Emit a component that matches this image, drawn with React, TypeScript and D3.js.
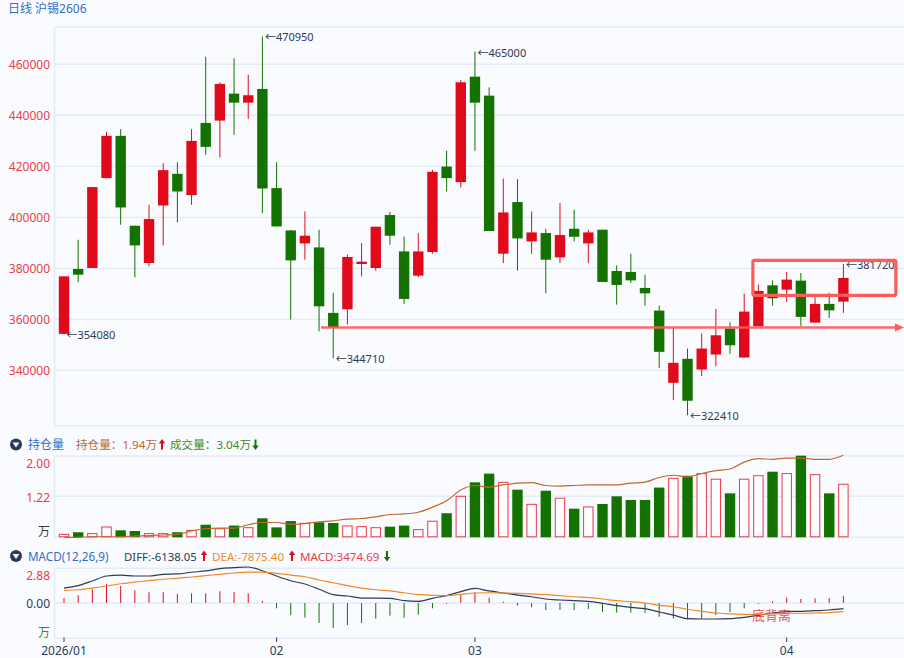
import React from 'react';
import * as d3 from 'd3';

const dates = [
  '01-12', '01-13', '01-14', '01-15', '01-16', '01-19', '01-20', '01-21', '01-22', '01-23', '01-26', '01-27', '01-28', '01-29', '01-30',
  '02-02', '02-03', '02-04', '02-05', '02-06', '02-09', '02-10', '02-11', '02-12', '02-13', '02-24', '02-25', '02-26', '02-27',
  '03-02', '03-03', '03-04', '03-05', '03-06', '03-09', '03-10', '03-11', '03-12', '03-13', '03-16', '03-17', '03-18', '03-19', '03-20',
  '03-23', '03-24', '03-25', '03-26', '03-27', '03-30', '03-31', '04-01', '04-02', '04-03', '04-07', '04-08',
];

const opens = [
  354320, 379760, 380150, 415380, 431940, 396710, 382110, 404660, 417060, 408730, 437020, 437930, 448490, 444970,
  450330, 411470, 394870, 389780, 388220, 362540, 363950, 381720, 380150, 400900, 386650, 377140, 386420, 419920,
  413810, 455150, 447710, 385750, 405990, 390570, 393850, 384300, 395540, 389780, 395150, 378980, 378590, 372330,
  363440, 335140, 344540, 340350, 346220, 356400, 345050, 357300, 373350, 371660, 375180, 358750, 366060, 366960,
];
const closes = [
  376870, 377530, 411860, 431940, 403870, 389000, 399330, 418510, 410140, 429980, 427630, 452290, 444970, 447870,
  411310, 396440, 383130, 392800, 365130, 356670, 384460, 382620, 396320, 392800, 368020, 386650, 417850, 415380,
  452950, 444970, 394640, 401920, 391740, 394090, 383400, 393070, 392400, 394090, 374670, 373500, 375300, 370210,
  347280, 342970, 328100, 348570, 353770, 349860, 363050, 371150, 368260, 375580, 360980, 366060, 363560, 376240,
];
const highs = [
  376870, 391230, 411860, 433500, 434560, 396710, 404930, 421250, 421640, 434560, 462970, 452950, 462350, 455930,
  470950, 421640, 395100, 402310, 395150, 370370, 385360, 389940, 396320, 402190, 392520, 393850, 418630, 426070,
  453850, 465000, 451000, 415220, 414990, 402310, 395540, 405600, 402970, 395150, 395150, 381170, 385750, 377530,
  365400, 356670, 348570, 354440, 364110, 358860, 370100, 373620, 375300, 378590, 378200, 369040, 370370, 381720,
];
const lows = [
  354080, 374520, 380150, 415380, 397100, 376480, 380780, 389000, 398000, 404930, 424500, 423440, 432330, 438590,
  401680, 396440, 359920, 383400, 355340, 344710, 357960, 376870, 379100, 389270, 366060, 376480, 385750, 410140,
  411700, 426070, 394640, 382110, 379100, 385750, 370210, 382110, 390570, 382110, 374670, 365790, 374280, 365400,
  341010, 328330, 322410, 337730, 341640, 346490, 345050, 357300, 365400, 366850, 357300, 358750, 360580, 362540,
];

// volume in 万 lots, open interest in 万 lots
const volumes = [
  0.17, 0.29, 0.21, 0.59, 0.4, 0.36, 0.21, 0.21, 0.29, 0.4, 0.72, 0.49, 0.67, 0.55, 1.09, 0.57, 0.93, 0.8, 0.86, 0.82,
  0.65, 0.61, 0.55, 0.61, 0.67, 0.44, 0.92, 1.38, 2.35, 3.15, 3.65, 3.15, 2.73, 1.89, 2.67, 2.24, 1.64, 1.74, 1.91, 2.35,
  2.14, 2.14, 2.85, 3.38, 3.53, 3.65, 3.33, 2.52, 3.33, 3.53, 3.76, 3.65, 4.68, 3.59, 2.52, 3.04,
];
const openInterest = [
  0.5, 0.5, 0.51, 0.51, 0.51, 0.52, 0.53, 0.54, 0.55, 0.61, 0.65, 0.66, 0.66, 0.72, 0.76, 0.76, 0.73, 0.74, 0.77, 0.79,
  0.82, 0.83, 0.86, 0.9, 0.91, 0.94, 1.03, 1.14, 1.33, 1.41, 1.38, 1.42, 1.45, 1.46, 1.41, 1.4, 1.41, 1.42, 1.42, 1.42,
  1.45, 1.47, 1.55, 1.59, 1.56, 1.62, 1.67, 1.7, 1.82, 1.88, 1.87, 1.89, 1.89, 1.87, 1.87, 1.94,
];

const diff = [
  1.24, 1.44, 1.83, 2.24, 2.32, 2.24, 2.24, 2.38, 2.41, 2.55, 2.66, 2.85, 2.93, 2.99, 2.68, 2.24, 1.85, 1.58, 1.14, 0.69,
  0.58, 0.41, 0.41, 0.39, 0.19, 0.14, 0.39, 0.61, 0.94, 1.22, 1.0, 0.83, 0.66, 0.52, 0.33, 0.25, 0.19, 0.14, -0.02, -0.22,
  -0.36, -0.47, -0.75, -1.0, -1.3, -1.33, -1.33, -1.3, -1.19, -1.02, -0.83, -0.72, -0.69, -0.64, -0.58, -0.47,
];
const dea = [
  1.05, 1.1, 1.24, 1.41, 1.6, 1.74, 1.85, 1.97, 2.05, 2.16, 2.27, 2.38, 2.49, 2.57, 2.57, 2.46, 2.32, 2.18, 1.91, 1.68,
  1.44, 1.24, 1.1, 1.0, 0.85, 0.69, 0.64, 0.61, 0.72, 0.83, 0.85, 0.83, 0.8, 0.75, 0.69, 0.61, 0.52, 0.44, 0.33, 0.19,
  0.11, 0, -0.19, -0.31, -0.52, -0.69, -0.83, -0.91, -0.94, -0.94, -0.91, -0.85, -0.85, -0.83, -0.8, -0.72,
];
const macd = [
  0.41, 0.64, 1.14, 1.58, 1.41, 1.05, 0.89, 0.89, 0.75, 0.8, 0.8, 0.97, 0.91, 0.8, 0.17, -0.44, -1.0, -1.22, -1.66, -2.07,
  -1.83, -1.66, -1.3, -1.05, -1.22, -0.97, -0.44, -0.08, 0.66, 0.89, 0.44, 0.11, -0.22, -0.36, -0.58, -0.58, -0.58, -0.5,
  -0.75, -0.8, -0.8, -0.83, -1.14, -1.3, -1.35, -1.3, -1.0, -0.75, -0.44, -0.06, 0.14, 0.44, 0.33, 0.39, 0.41, 0.58,
];

const priceTicks = [460000, 440000, 420000, 400000, 380000, 360000, 340000];
const monthTicks = [
  { date: '01-12', label: '2026/01' },
  { date: '02-02', label: '02' },
  { date: '03-02', label: '03' },
  { date: '04-01', label: '04' },
];
const extremes = [
  { date: '01-12', value: 354080 },
  { date: '01-30', value: 470950 },
  { date: '02-06', value: 344710 },
  { date: '03-02', value: 465000 },
  { date: '03-23', value: 322410 },
  { date: '04-08', value: 381720 },
];
const supportPrice = 356800;
const boxPrices = [383130, 369430];

const WIDTH = 904;
const HEIGHT = 658;
const LEFT = 54.5;
const RED = '#e00a1a';
const GREEN = '#137200';
const LABEL_RED = '#e8404a';
const DARK = '#2d3a55';
const BLUE = '#2f6fc4';
const GRID = '#e3ebf8';
const ANNOT = '#ff5a5c';
const FONT = '"Noto Sans", "Noto Sans CJK SC", sans-serif';

const x = d3.scalePoint<string>().domain(dates).range([64, 843.4]);
const px = (i: number) => x(dates[i])!;

const yPrice = d3.scaleLinear().domain([340000, 460000]).range([370.4, 64.3]);
const yVolume = d3.scaleLinear().domain([0, 4.66]).range([537.3, 456]);
const yOI = d3.scaleLinear().domain([0.5, 1.94]).range([537.3, 455.3]);
const yMacd = d3.scaleLinear().domain([-2.93, 2.88]).range([638.3, 568.3]);

const oiLine = d3.line<number>().x((_, i) => px(i)).y((d) => yOI(d)).curve(d3.curveMonotoneX);
const diffLine = d3.line<number>().x((_, i) => px(i)).y((d) => yMacd(d)).curve(d3.curveMonotoneX);
const deaLine = d3.line<number>().x((_, i) => px(i)).y((d) => yMacd(d)).curve(d3.curveMonotoneX);

function Arrow({ x: ax, y, color, up }: { x: number; y: number; color: string; up: boolean }) {
  const s = up ? 1 : -1;
  return (
    <path
      d={`M${ax} ${y - 5.5 * s}L${ax + 3.2} ${y - 1 * s}H${ax + 1}V${y + 5 * s}H${ax - 1}V${y - 1 * s}H${ax - 3.2}Z`}
      fill={color}
    />
  );
}

function Icon({ y }: { y: number }) {
  return (
    <g>
      <circle cx={16} cy={y} r={6} fill={DARK} />
      <path d={`M12.6 ${y - 2}H19.4L16 ${y + 3}Z`} fill="#fff" />
    </g>
  );
}

export default function App() {
  const bandW = 10.4;
  return (
    <svg
      width={WIDTH}
      height={HEIGHT}
      style={{ position: 'absolute', left: 0, top: 0, fontFamily: FONT }}
    >
      <rect width={WIDTH} height={HEIGHT} fill="#fafbff" />

      <text x={8} y={12.5} fontSize={12} fill={BLUE}>日线 沪锡2606</text>

      {/* main panel frame and grid */}
      <g stroke={GRID} strokeWidth={1.4} fill="none">
        <line x1={LEFT} x2={WIDTH} y1={26.7} y2={26.7} />
        <line x1={LEFT} x2={WIDTH} y1={425.7} y2={425.7} />
        <line x1={LEFT} x2={LEFT} y1={26.7} y2={425.7} />
        {priceTicks.map((t) => (
          <line key={t} x1={LEFT} x2={WIDTH} y1={yPrice(t)} y2={yPrice(t)} />
        ))}
      </g>
      {priceTicks.map((t) => (
        <text key={t} x={50} y={yPrice(t) + 4.3} textAnchor="end" fontSize={12} fill={LABEL_RED}>{t}</text>
      ))}

      {/* candles */}
      {dates.map((d, i) => {
        const up = closes[i] > opens[i];
        const color = up ? RED : GREEN;
        const top = yPrice(Math.max(opens[i], closes[i]));
        const bottom = yPrice(Math.min(opens[i], closes[i]));
        return (
          <g key={d}>
            <line x1={px(i)} x2={px(i)} y1={yPrice(highs[i])} y2={yPrice(lows[i])} stroke={color} strokeWidth={1} />
            <rect x={px(i) - bandW / 2} y={top} width={bandW} height={Math.max(bottom - top, 1)} fill={color} />
          </g>
        );
      })}

      {extremes.map((e) => (
        <text key={e.date} x={x(e.date)! + 2.5} y={yPrice(e.value) + 5} fontSize={11} fill={DARK}>{`←${e.value}`}</text>
      ))}

      {/* hand drawn annotations */}
      <line x1={321} x2={897} y1={yPrice(supportPrice)} y2={yPrice(supportPrice)} stroke={ANNOT} strokeWidth={2.5} opacity={0.9} />
      <path d={`M895 ${yPrice(supportPrice) - 4}L904 ${yPrice(supportPrice)}L895 ${yPrice(supportPrice) + 4}Z`} fill={ANNOT} />
      <rect
        x={px(49) - 5.5}
        y={yPrice(boxPrices[0])}
        width={143}
        height={yPrice(boxPrices[1]) - yPrice(boxPrices[0])}
        rx={1.5}
        fill="none"
        stroke={ANNOT}
        strokeWidth={3.2}
      />

      {/* open interest / volume */}
      <Icon y={444.5} />
      <text x={28} y={449} fontSize={12} fill={BLUE}>持仓量</text>
      <text x={76} y={449} fontSize={11.6} fill="#b8692e">持仓量：1.94万</text>
      <Arrow x={162} y={444.5} color={RED} up />
      <text x={170} y={449} fontSize={11.6} fill="#3d8a2a">成交量：3.04万</text>
      <Arrow x={255.5} y={444.5} color={GREEN} up={false} />

      <g stroke={GRID} strokeWidth={1.4} fill="none">
        <line x1={LEFT} x2={WIDTH} y1={456} y2={456} />
        <line x1={LEFT} x2={WIDTH} y1={496.3} y2={496.3} />
        <line x1={LEFT} x2={WIDTH} y1={537.3} y2={537.3} />
        <line x1={LEFT} x2={LEFT} y1={456} y2={537.3} />
      </g>
      <text x={50} y={467.5} textAnchor="end" fontSize={12} fill={LABEL_RED}>2.00</text>
      <text x={50} y={501.5} textAnchor="end" fontSize={12} fill={LABEL_RED}>1.22</text>
      <text x={50} y={536} textAnchor="end" fontSize={12} fill={DARK}>万</text>

      {dates.map((d, i) => {
        const up = closes[i] > opens[i];
        const top = yVolume(volumes[i]);
        return up ? (
          <rect key={d} x={px(i) - 4.7} y={top} width={9.4} height={yVolume(0) - top - 0.5} fill="#fff" stroke="#e8384a" strokeWidth={1} />
        ) : (
          <rect key={d} x={px(i) - 5.2} y={top} width={10.4} height={yVolume(0) - top} fill={GREEN} />
        );
      })}
      <path d={oiLine(openInterest)!} fill="none" stroke="#c0692c" strokeWidth={1.2} />

      {/* MACD */}
      <Icon y={556} />
      <text x={28} y={560.5} fontSize={11.7} fill={BLUE}>MACD(12,26,9)</text>
      <text x={124} y={560.5} fontSize={11.4} fill={DARK}>DIFF:-6138.05</text>
      <Arrow x={204} y={556} color={RED} up />
      <text x={212} y={560.5} fontSize={11.6} fill="#ee8a2c">DEA:-7875.40</text>
      <Arrow x={292} y={556} color={RED} up />
      <text x={300} y={560.5} fontSize={11.6} fill={LABEL_RED}>MACD:3474.69</text>
      <Arrow x={387} y={556} color={GREEN} up={false} />

      <g stroke={GRID} strokeWidth={1.4} fill="none">
        <line x1={LEFT} x2={WIDTH} y1={568.3} y2={568.3} />
        <line x1={LEFT} x2={WIDTH} y1={yMacd(0)} y2={yMacd(0)} />
        <line x1={LEFT} x2={WIDTH} y1={638.3} y2={638.3} />
        <line x1={LEFT} x2={LEFT} y1={568.3} y2={638.3} />
      </g>
      <text x={50} y={580} textAnchor="end" fontSize={12} fill={LABEL_RED}>2.88</text>
      <text x={50} y={607.5} textAnchor="end" fontSize={12} fill={DARK}>0.00</text>
      <text x={50} y={637} textAnchor="end" fontSize={12} fill="#3d8a2a">万</text>

      {dates.map((d, i) => (
        <line
          key={d}
          x1={px(i)}
          x2={px(i)}
          y1={yMacd(0)}
          y2={yMacd(macd[i])}
          stroke={macd[i] >= 0 ? RED : GREEN}
          strokeWidth={1}
        />
      ))}
      <path d={diffLine(diff)!} fill="none" stroke={DARK} strokeWidth={1.2} />
      <path d={deaLine(dea)!} fill="none" stroke="#f08a24" strokeWidth={1.2} />
      <text x={752} y={620} fontSize={13} fill="#e05a5a">底背离</text>

      {monthTicks.map((m) => (
        <g key={m.date}>
          <line x1={x(m.date)!} x2={x(m.date)!} y1={637.5} y2={642} stroke={DARK} strokeWidth={1} />
          <text x={x(m.date)!} y={654.5} textAnchor="middle" fontSize={12} fill={DARK}>{m.label}</text>
        </g>
      ))}
    </svg>
  );
}
